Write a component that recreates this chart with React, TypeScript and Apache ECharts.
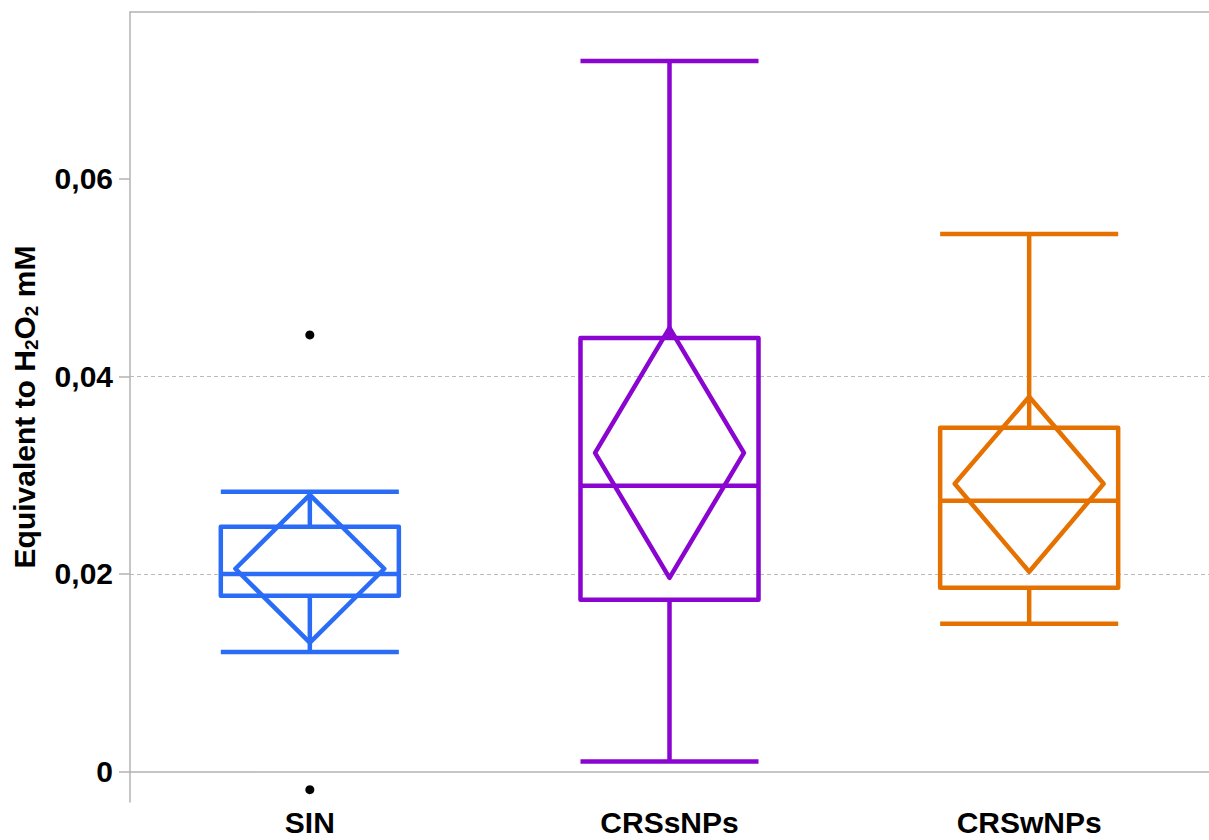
import React, { useEffect, useRef } from "react";
import * as echarts from "echarts";

const categories = ["SIN", "CRSsNPs", "CRSwNPs"];
const whiskerLow = [0.0121, 0.001, 0.01495];
const q1 = [0.01778, 0.01738, 0.0186];
const median = [0.02, 0.02892, 0.0274];
const q3 = [0.02477, 0.0439, 0.03479];
const whiskerHigh = [0.02831, 0.07193, 0.05442];
const meanValues = [0.02052, 0.03226, 0.02912];
const ciLow = [0.01303, 0.0196, 0.02021];
const ciHigh = [0.02801, 0.04491, 0.03793];
const outliers: [number, number][] = [
  [0, 0.0442],
  [0, -0.00185],
];
const yTicks = [0, 0.02, 0.04, 0.06];
const colors = ["#2a6cf6", "#8a05cf", "#e57200"];

const FONT = "'Liberation Sans', Arial, Helvetica, sans-serif";
const AXIS_GRAY = "#b3b3b3";

export default function App() {
  const ref = useRef<HTMLDivElement>(null);
  useEffect(() => {
    if (!ref.current) return;
    const chart = echarts.init(ref.current, null, { renderer: "svg" });
    const boxData = categories.map((_, i) => [
      i,
      whiskerLow[i],
      q1[i],
      median[i],
      q3[i],
      whiskerHigh[i],
      meanValues[i],
      ciLow[i],
      ciHigh[i],
    ]);
    const fmt = (v: number) => (v === 0 ? "0" : v.toFixed(2).replace(".", ","));
    chart.setOption({
      animation: false,
      backgroundColor: "#ffffff",
      grid: {
        left: 130,
        right: 0,
        top: 12,
        bottom: 38,
        containLabel: false,
        outerBoundsMode: "none",
      },
      xAxis: [
        {
          type: "category",
          data: categories,
          position: "bottom",
          boundaryGap: true,
          axisLine: { show: true, lineStyle: { color: AXIS_GRAY, width: 1.5 } },
          axisTick: { show: false },
          splitLine: { show: false },
          axisLabel: {
            fontSize: 30,
            lineHeight: 28,
            fontWeight: "bold",
            color: "#000",
            fontFamily: FONT,
            margin: 6,
          },
        },
        {
          type: "category",
          data: categories,
          position: "top",
          axisLine: { show: true, lineStyle: { color: AXIS_GRAY, width: 1.5 } },
          axisTick: { show: false },
          axisLabel: { show: false },
          splitLine: { show: false },
        },
      ],
      yAxis: {
        type: "value",
        min: -0.0031,
        max: 0.0769,
        splitNumber: 4,
        axisLine: { show: true, lineStyle: { color: AXIS_GRAY, width: 1.5 } },
        axisTick: {
          show: true,
          length: 11,
          customValues: yTicks,
          lineStyle: { color: AXIS_GRAY, width: 1.5 },
        },
        axisLabel: {
          customValues: yTicks,
          formatter: fmt,
          fontSize: 30,
          fontWeight: "bold",
          color: "#000",
          fontFamily: FONT,
          margin: 17,
        },
        splitLine: {
          show: true,
          showMinLine: false,
          showMaxLine: false,
          lineStyle: { color: "#bbbbbb", width: 1, type: [4, 3] },
        },
        name: "Equivalent to H{sub|2}O{sub|2} mM",
        nameLocation: "middle",
        nameGap: 89,
        nameTextStyle: {
          fontSize: 30,
          fontWeight: "bold",
          color: "#000",
          fontFamily: FONT,
          lineHeight: 34,
          rich: {
            sub: {
              fontSize: 19,
              fontWeight: "bold",
              color: "#000",
              fontFamily: FONT,
              verticalAlign: "bottom",
              lineHeight: 19,
            },
          },
        },
      },
      series: [
        {
          type: "custom",
          xAxisIndex: 0,
          yAxisIndex: 0,
          data: boxData,
          encode: { x: 0, y: [1, 2, 3, 4, 5, 6, 7, 8] },
          renderItem: (params: any, api: any) => {
            const i = api.value(0);
            const band = api.size([1, 0])[0];
            const cx = api.coord([i, 0])[0];
            const y = (idx: number) => api.coord([i, api.value(idx)])[1];
            const bh = band * 0.2475;
            const dh = band * 0.207;
            const style = {
              stroke: colors[i],
              lineWidth: 4.5,
              fill: "none",
              lineJoin: "round",
              lineCap: "butt",
            };
            const yLow = y(1),
              yQ1 = y(2),
              yMed = y(3),
              yQ3 = y(4),
              yHigh = y(5),
              yMean = y(6),
              yCiL = y(7),
              yCiH = y(8);
            return {
              type: "group",
              children: [
                {
                  type: "line",
                  shape: { x1: cx, y1: yQ3, x2: cx, y2: yHigh },
                  style,
                },
                {
                  type: "line",
                  shape: { x1: cx, y1: yQ1, x2: cx, y2: yLow },
                  style,
                },
                {
                  type: "line",
                  shape: { x1: cx - bh, y1: yHigh, x2: cx + bh, y2: yHigh },
                  style,
                },
                {
                  type: "line",
                  shape: { x1: cx - bh, y1: yLow, x2: cx + bh, y2: yLow },
                  style,
                },
                {
                  type: "rect",
                  shape: { x: cx - bh, y: yQ3, width: 2 * bh, height: yQ1 - yQ3 },
                  style,
                },
                {
                  type: "line",
                  shape: { x1: cx - bh, y1: yMed, x2: cx + bh, y2: yMed },
                  style,
                },
                {
                  type: "polygon",
                  shape: {
                    points: [
                      [cx, yCiH],
                      [cx + dh, yMean],
                      [cx, yCiL],
                      [cx - dh, yMean],
                    ],
                  },
                  style,
                },
              ],
            };
          },
        },
        {
          type: "scatter",
          xAxisIndex: 0,
          yAxisIndex: 0,
          data: outliers,
          symbol: "circle",
          symbolSize: 9,
          itemStyle: { color: "#000", opacity: 1 },
        },
      ],
    });
    return () => chart.dispose();
  }, []);
  return (
    <div
      ref={ref}
      style={{ position: "absolute", left: 0, top: 0, width: 1209, height: 840 }}
    />
  );
}
